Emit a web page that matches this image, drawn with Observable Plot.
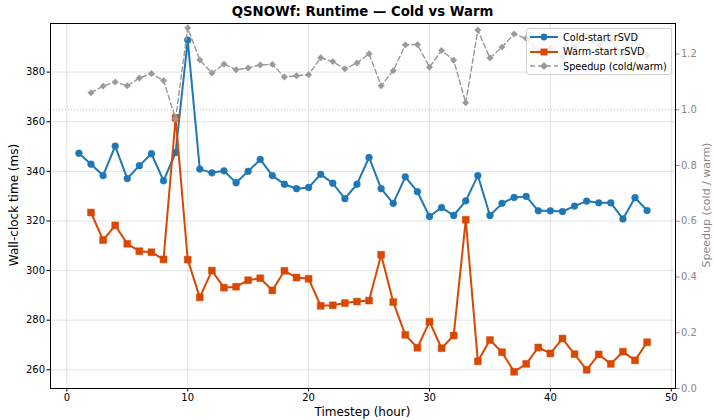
<!DOCTYPE html>
<html>
<head>
<meta charset="utf-8">
<script src="https://cdn.jsdelivr.net/npm/d3@7"></script>
<script src="https://cdn.jsdelivr.net/npm/@observablehq/plot@0.6"></script>
<style>
  body { margin: 0; background: #fff; font-family: "DejaVu Sans", sans-serif; }
  #wrap { position: relative; width: 714px; height: 420px; overflow: hidden; }
  .lbl { position: absolute; white-space: nowrap; color: #000; }
  #title { left: 50px; width: 625px; top: 4px; text-align: center; font-weight: bold; font-size: 13.3px; }
  #xlabel { left: 50px; width: 625px; top: 405px; text-align: center; font-size: 12px; }
  #ylabel { left: 14px; top: 205px; font-size: 12px; transform: translate(-50%, -50%) rotate(-90deg); }
  #y2label { left: 706px; top: 205px; font-size: 11px; color: #888; transform: translate(-50%, -50%) rotate(-90deg); }
  #legend { position: absolute; left: 526px; top: 28px; width: 146px; height: 47px; box-sizing: border-box;
            background: rgba(255,255,255,0.8); border: 1px solid #d0d0d0; border-radius: 3px; font-size: 9.7px; }
  .row { position: absolute; left: 3px; height: 14px; display: flex; align-items: center; }
  .row svg { width: 28px; height: 14px; margin-right: 5px; overflow: visible; }
</style>
</head>
<body>
<div id="wrap">
  <div id="chart"></div>
  <div class="lbl" id="title">QSNOWf: Runtime — Cold vs Warm</div>
  <div class="lbl" id="xlabel">Timestep (hour)</div>
  <div class="lbl" id="ylabel">Wall-clock time (ms)</div>
  <div class="lbl" id="y2label">Speedup  (cold / warm)</div>
  <div id="legend"></div>
</div>
<script>
// ---- data ----
const timesteps = [1,2,3,4,5,6,7,8,9,10,11,12,13,14,15,16,17,18,19,20,21,22,23,24,25,26,27,28,29,30,31,32,33,34,35,36,37,38,39,40,41,42,43,44,45,46,47,48];
const coldMs = [347.3,342.9,338.3,350.2,337.1,342.3,347.1,336.2,347.6,392.9,
                340.9,339.4,340.2,335.4,340.0,344.8,338.3,334.8,333.0,333.5,
                338.8,335.2,329.0,334.8,345.6,333.0,327.1,337.8,331.8,321.8,
                325.4,322.2,328.1,338.3,322.2,327.1,329.5,329.9,324.1,324.1,
                323.8,326.0,328.0,327.3,327.3,320.8,329.4,324.2];
const warmMs = [null,323.4,312.3,318.2,310.8,307.8,307.4,304.5,361.6,304.4,
                289.2,300.0,293.1,293.5,296.1,296.9,292.0,299.9,297.2,296.7,
                285.8,286.0,286.9,287.5,287.9,306.4,287.3,274.1,268.9,279.4,
                268.7,273.8,320.5,263.4,272.0,267.1,259.2,262.4,269.0,266.6,
                272.6,266.3,260.0,266.2,262.4,267.3,263.8,271.1];
const speedup = [null,1.061,1.085,1.100,1.086,1.114,1.130,1.105,0.968,1.294,
                 1.179,1.132,1.164,1.144,1.150,1.161,1.163,1.118,1.122,1.126,
                 1.187,1.173,1.147,1.168,1.201,1.086,1.140,1.233,1.234,1.153,
                 1.213,1.178,1.025,1.286,1.186,1.225,1.272,1.256,1.209,1.219,
                 1.190,1.225,1.263,1.231,1.250,1.198,1.251,1.195];
const xTicks = [0,10,20,30,40,50];
const yTicks = [260,280,300,320,340,360,380];
const y2Ticks = [0.0,0.2,0.4,0.6,0.8,1.0,1.2];
const seriesNames = ["Cold-start rSVD","Warm-start rSVD","Speedup (cold/warm)"];

// ---- layout / style ----
const COLD = "#1f77b4", WARM = "#d94801", SPD = "#999999";
const msDomain = [252.46, 399.6];
const spDomain = [0, 1.3097];
const sp2ms = d3.scaleLinear().domain(spDomain).range(msDomain);

const rows = timesteps.map((t, i) => ({t, cold: coldMs[i], warm: warmMs[i], sp: speedup[i]}));
const warmRows = rows.filter(d => d.warm != null);
const spRows = rows.filter(d => d.sp != null);

const chart = Plot.plot({
  width: 714, height: 420,
  marginLeft: 50, marginRight: 39, marginTop: 23, marginBottom: 32,
  style: {fontFamily: "DejaVu Sans, sans-serif", fontSize: "10px", background: "#fff", color: "#000", overflow: "visible"},
  x: {domain: [-1.35, 50.35]},
  y: {domain: msDomain},
  marks: [
    Plot.gridX(xTicks, {stroke: "#b0b0b0", strokeOpacity: 0.35}),
    Plot.gridY(yTicks, {stroke: "#b0b0b0", strokeOpacity: 0.35}),
    Plot.ruleY([sp2ms(1.0)], {stroke: "#bbbbbb", strokeDasharray: "1,2"}),
    Plot.axisX(xTicks, {tickSize: 3.5, tickPadding: 2, label: null, tickFormat: d => String(d)}),
    Plot.axisY(yTicks, {tickSize: 3.5, tickPadding: 2, label: null, tickFormat: d => String(d)}),
    Plot.axisY(y2Ticks.map(v => sp2ms(v)), {anchor: "right", tickSize: 3.5, tickPadding: 2, label: null,
      color: "#888", tickFormat: v => sp2ms.invert(v).toFixed(1)}),
    Plot.line(rows, {x: "t", y: "cold", stroke: COLD, strokeWidth: 2}),
    Plot.dot(rows, {x: "t", y: "cold", fill: COLD, stroke: COLD, strokeWidth: 0.5, r: 3.4}),
    Plot.line(warmRows, {x: "t", y: "warm", stroke: WARM, strokeWidth: 2}),
    Plot.dot(warmRows, {x: "t", y: "warm", fill: WARM, stroke: WARM, strokeWidth: 0.5, symbol: "square", r: 3.9}),
    Plot.line(spRows, {x: "t", y: d => sp2ms(d.sp), stroke: SPD, strokeWidth: 1.4, strokeDasharray: "5,3"}),
    Plot.dot(spRows, {x: "t", y: d => sp2ms(d.sp), fill: SPD, stroke: SPD, strokeWidth: 0.5, symbol: "diamond2", r: 2.9}),
    Plot.frame({stroke: "#000", strokeWidth: 1})
  ]
});
document.getElementById("chart").appendChild(chart);

// ---- legend ----
const legend = document.getElementById("legend");
const sw = [
  `<line x1="0" y1="7" x2="28" y2="7" stroke="${COLD}" stroke-width="2"/><circle cx="14" cy="7" r="3.4" fill="${COLD}"/>`,
  `<line x1="0" y1="7" x2="28" y2="7" stroke="${WARM}" stroke-width="2"/><rect x="10.5" y="3.5" width="7" height="7" fill="${WARM}"/>`,
  `<line x1="0" y1="7" x2="28" y2="7" stroke="${SPD}" stroke-width="1.4" stroke-dasharray="5,3"/><path d="M14 3 L18 7 L14 11 L10 7 Z" fill="${SPD}"/>`
];
seriesNames.forEach((name, i) => {
  const r = document.createElement("div");
  r.className = "row";
  r.style.top = (1 + i * 14.7) + "px";
  r.innerHTML = `<svg viewBox="0 0 28 14">${sw[i]}</svg><span>${name}</span>`;
  legend.appendChild(r);
});
</script>
</body>
</html>
